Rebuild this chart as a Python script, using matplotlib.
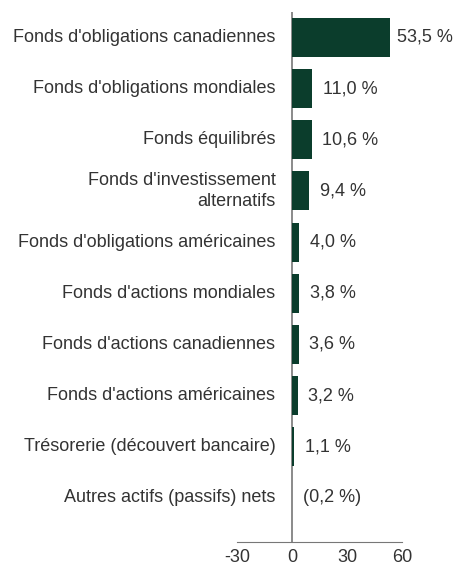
import matplotlib
matplotlib.use("Agg")
import matplotlib.pyplot as plt

categories = [
    "Fonds d'obligations canadiennes",
    "Fonds d'obligations mondiales",
    "Fonds équilibrés",
    "Fonds d'investissement\nalternatifs",
    "Fonds d'obligations américaines",
    "Fonds d'actions mondiales",
    "Fonds d'actions canadiennes",
    "Fonds d'actions américaines",
    "Trésorerie (découvert bancaire)",
    "Autres actifs (passifs) nets",
]
values = [53.5, 11.0, 10.6, 9.4, 4.0, 3.8, 3.6, 3.2, 1.1, -0.2]
value_labels = ["53,5 %", "11,0 %", "10,6 %", "9,4 %", "4,0 %", "3,8 %",
                "3,6 %", "3,2 %", "1,1 %", "(0,2 %)"]
xticks = [-30, 0, 30, 60]

BAR = "#0b3d2c"
TXT = "#333333"
FS = 13
plt.rcParams["font.family"] = ["Liberation Sans Narrow", "Liberation Sans", "DejaVu Sans"]

fig = plt.figure(figsize=(4.55, 5.77), dpi=100)
ax = fig.add_axes([0.521, 0.0607, 0.363, 0.918])

ypos = list(range(len(categories)))
ax.barh(ypos, values, height=0.76, color=BAR)
for y, v, lab in zip(ypos, values, value_labels):
    off = 5 if v > 40 else 7.5   # longest bar label is squeezed near the edge
    ax.annotate(lab, xy=(max(v, 0), y), xytext=(off, 0), textcoords="offset points",
                va="center", ha="left", fontsize=FS, color=TXT)
# category names sit left of the zero line, not the axes edge
for y, cat in zip(ypos, categories):
    ax.annotate(cat, xy=(0, y), xytext=(-12, 0), textcoords="offset points",
                va="center", ha="right", multialignment="right",
                fontsize=FS, color=TXT, linespacing=1.35)

ax.set_xlim(-30, 60)
ax.set_ylim(9.86, -0.49)
ax.set_xticks(xticks)
ax.set_xticklabels([str(t) for t in xticks], fontsize=FS, color=TXT)
ax.set_yticks([])
ax.tick_params(length=0, pad=5)

for s in ["top", "right", "left"]:
    ax.spines[s].set_visible(False)
ax.spines["bottom"].set_color("#777777")
ax.axvline(0, color="#777777", lw=1.2, zorder=0)

fig.savefig("out.png", dpi=100)
